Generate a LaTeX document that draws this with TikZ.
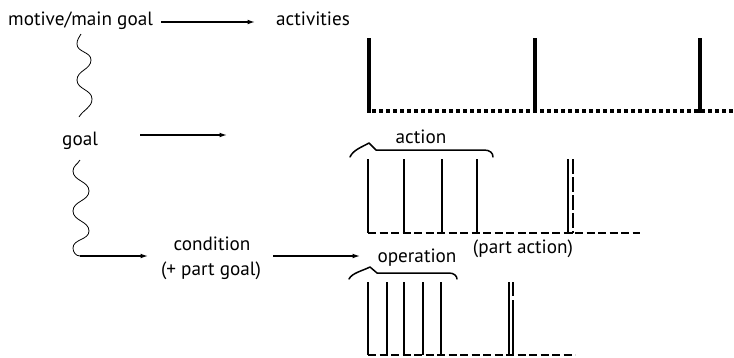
\documentclass[tikz,border=0pt]{standalone}
\usepackage{fontspec}
\setmainfont{PT Sans}
\usetikzlibrary{arrows.meta}
\begin{document}
\begin{tikzpicture}[x=1pt,y=-1pt,
 lbl/.style={inner sep=0pt, font=\fontsize{19.2}{25}\selectfont},
 arr/.style={line width=1.3pt, -{Latex[length=7.5pt,width=4.8pt]}},
 wave/.style={line width=0.8pt},
 heavybar/.style={line width=3.5pt},
 bar/.style={line width=2.2pt},
 dotline/.style={line width=3.5pt, dash pattern=on 4.3pt off 2.7pt},
 dashline/.style={line width=2.2pt, dash pattern=on 8pt off 3.5pt},
 longdash/.style={line width=2.2pt, dash pattern=on 15pt off 3pt},
 bracepath/.style={line width=1.5pt, line cap=round, line join=round}]
\useasboundingbox (0,0) rectangle (734,357);

% texts
\node[lbl, anchor=base west] (mm) at (8,25) {motive/main goal};
\node[lbl, anchor=base west] (act) at (276,25) {activities};
\node[lbl, anchor=base west] (goal) at (62,145) {goal};
\node[lbl, anchor=base] (cond) at (212,250) {condition};
\node[lbl, anchor=base] (condb) at (211,275) {(+ part goal)};
\node[lbl, anchor=base] (action) at (421,143) {action};
\node[lbl, anchor=base] (partact) at (523,253) {(part action)};
\node[lbl, anchor=base] (oper) at (417,262) {operation};

% free ends
\coordinate (a1s) at (161,22);
\coordinate (a1e) at (255,22);
\coordinate (a2s) at (140,135);
\coordinate (a2e) at (227,135);
\coordinate (a4s) at (273,256);
\coordinate (a4e) at (360,256);
\coordinate (w1s) at (81,34);
\coordinate (w2s) at (80,160);
\coordinate (w2e) at (148,256);

% arrows
\draw[arr] (a1s) -- (a1e);
\draw[arr] (a2s) -- (a2e);
\draw[arr] (a4s) -- (a4e);

% wave 1
\draw[wave] (w1s) to[out=-120,in=90] (77,44) to[out=-90,in=90] (91,60)
  to[out=-90,in=90] (77,80) to[out=-90,in=90] (92,99) to[out=-90,in=60] (79,117);
% wave 2
\draw[wave] (w2s) to[out=-120,in=90] (73,171) to[out=-90,in=90] (89,191)
  to[out=-90,in=90] (73,211) to[out=-90,in=90] (89,231)
  to[out=-90,in=90] (73,248) to[out=-90,in=180] (80,256);
\draw[arr] (80,256) -- (w2e);

% activities
\foreach \x in {369,535,700} \draw[heavybar] (\x,38) -- (\x,113);
\draw[dotline] (372,111) -- (734,111);

% action brace and bars
\draw[bracepath] (350,157) .. controls (353,150) and (362,147) .. (369,143)
  -- (376,150) -- (484,150) .. controls (490,150) and (493,153) .. (493,157);
\foreach \x in {368,404,442,477} \draw[bar] (\x,159) -- (\x,233);
\draw[dashline] (368,233) -- (640,233);
\draw[bar] (568,159) -- (568,233) -- (573,233);
\draw[longdash] (573,159) -- (573,233);

% operation brace and bars
\draw[bracepath] (349,279) .. controls (352,273) and (362,271) .. (370,267)
  -- (377,273) -- (449,273) .. controls (454,273) and (457,276) .. (457,279);
\foreach \x in {368,387,404,423,441} \draw[bar] (\x,282) -- (\x,355);
\draw[dashline] (368,355) -- (575,355);
\draw[bar] (509,282) -- (509,355) -- (513,355);
\draw[bar] (513,282) -- (513,296);
\draw[bar] (513,300) -- (513,355);
\end{tikzpicture}
\end{document}
